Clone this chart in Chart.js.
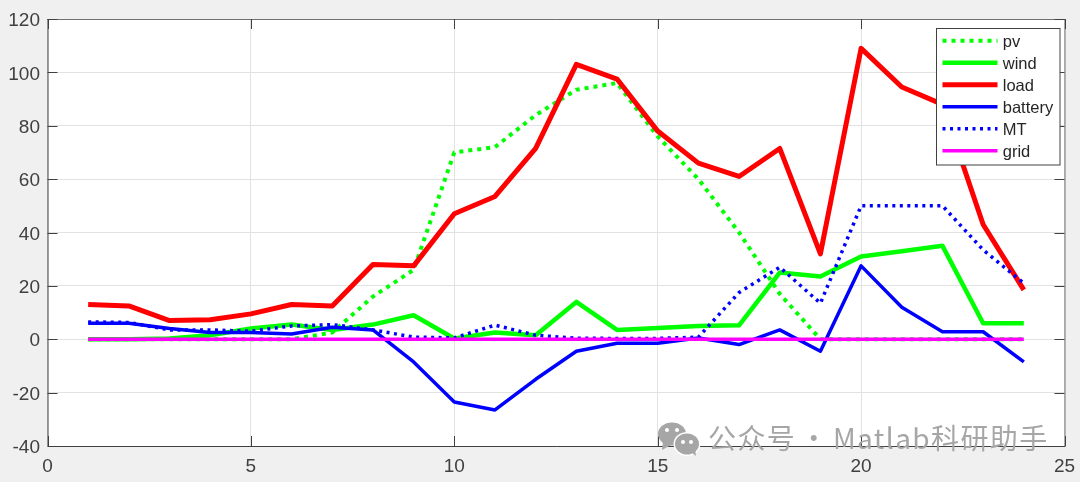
<!DOCTYPE html>
<html>
<head>
<meta charset="utf-8">
<style>
html,body{margin:0;padding:0;background:#f0f0f0;}
canvas{display:block;}
</style>
<script src="https://cdn.jsdelivr.net/npm/chart.js@4"></script>
</head>
<body>
<canvas id="c" width="1080" height="482"></canvas>
<script>
const hours   = [1,2,3,4,5,6,7,8,9,10,11,12,13,14,15,16,17,18,19,20,21,22,23,24];
const pv      = [0,0,0,0,0,0,2.5,16,26,70,72,84,93.5,96,76,60,40,17,0,0,0,0,0,0];
const wind    = [0,0,0.3,1.5,4,5.5,3.5,5.5,9,0.3,2.5,1.5,14,3.5,4.2,5,5.2,25,23.5,31,33,35,6,6];
const load    = [13,12.5,7,7.3,9.5,13,12.5,28,27.5,47,53.5,71.5,103,97.5,78,66,61,71.5,32,109,94.5,88,43,18.5];
const battery = [6,6,4,2.5,2.5,2,4.5,3.5,-8.5,-23.5,-26.5,-15,-4.5,-1.5,-1.5,0.5,-2,3.5,-4.5,27.5,12,2.8,2.8,-8.5];
const mt      = [6.5,6.3,3.5,3.5,3,5,5.5,3.5,0.8,0.5,5.3,1.5,0.4,0.3,0.3,0.8,17.5,27,13.5,50,50,50,33.5,21];
const grid    = [0,0,0,0,0,0,0,0,0,0,0,0,0,0,0,0,0,0,0,0,0,0,0,0];
const seriesNames = ['pv','wind','load','battery','MT','grid'];
const watermark = '公众号 · Matlab科研助手';

const FONT = '"Liberation Sans", Arial, sans-serif';
const pts = v => v.map((y,i)=>({x:hours[i],y}));
const ds = (i,data,color,w,dash) => ({
  label: seriesNames[i], data: pts(data), borderColor: color, backgroundColor: color,
  borderWidth: w, borderDash: dash||[], pointRadius: 0, tension: 0, fill: false,
  borderCapStyle: 'butt', borderJoinStyle: 'round', order: 6-i
});

const frame = {
  id:'frame',
  beforeDraw(chart){
    const {ctx,chartArea:a} = chart;
    ctx.save();
    ctx.fillStyle = '#ffffff';
    ctx.fillRect(a.left,a.top,a.right-a.left,a.bottom-a.top);
    ctx.restore();
  },
  beforeDatasetsDraw(chart){
    const {ctx,chartArea:a,scales:{x,y}} = chart;
    const len = 10;
    ctx.save();
    ctx.lineWidth = 1;
    ctx.strokeStyle = '#707070';
    ctx.beginPath();
    ctx.moveTo(a.left,a.top+0.5); ctx.lineTo(a.right+0.5,a.top+0.5); ctx.lineTo(a.right+0.5,a.bottom);
    ctx.stroke();
    ctx.strokeStyle = '#404040';
    ctx.beginPath();
    ctx.moveTo(a.left+0.5,a.top); ctx.lineTo(a.left+0.5,a.bottom+0.5); ctx.lineTo(a.right+1,a.bottom+0.5);
    ctx.stroke();
    ctx.beginPath();
    x.ticks.forEach(t=>{
      const p = Math.round(x.getPixelForValue(t.value))+0.5;
      ctx.moveTo(p,a.bottom); ctx.lineTo(p,a.bottom-len);
      ctx.moveTo(p,a.top); ctx.lineTo(p,a.top+len);
    });
    y.ticks.forEach(t=>{
      const p = Math.round(y.getPixelForValue(t.value))+0.5;
      ctx.moveTo(a.left,p); ctx.lineTo(a.left+len,p);
      ctx.moveTo(a.right,p); ctx.lineTo(a.right-len,p);
    });
    ctx.stroke();
    ctx.restore();
  },
  afterDraw(chart){
    const {ctx} = chart;
    const ink = '#a6a6a6';
    ctx.save();
    // watermark
    ctx.fillStyle = ink;
    ctx.beginPath(); ctx.ellipse(672,434,14,11.5,0,0,Math.PI*2); ctx.fill();
    ctx.beginPath(); ctx.moveTo(663,442); ctx.lineTo(662,450); ctx.lineTo(671,445); ctx.fill();
    ctx.fillStyle = '#ffffff';
    ctx.beginPath(); ctx.ellipse(687,444,13.5,12,0,0,Math.PI*2); ctx.fill();
    ctx.fillStyle = ink;
    ctx.beginPath(); ctx.ellipse(687,444,12,10.5,0,0,Math.PI*2); ctx.fill();
    ctx.beginPath(); ctx.moveTo(691,452); ctx.lineTo(696,456); ctx.lineTo(695,449); ctx.fill();
    ctx.fillStyle = '#ffffff';
    [[667,430],[677,430],[683,442],[691,442]].forEach(([px,py])=>{
      ctx.beginPath(); ctx.arc(px,py,2,0,Math.PI*2); ctx.fill();
    });
    ctx.fillStyle = ink;
    ctx.font = '28px "Noto Sans CJK SC", sans-serif';
    ctx.textAlign = 'left';
    ctx.textBaseline = 'middle';
    ctx.letterSpacing = '1.4px';
    ctx.wordSpacing = '-4px';
    ctx.fillText(watermark,708,438);
    ctx.restore();
  }
};

const legendPlace = {
  id:'legendPlace',
  beforeLayout(chart){
    const lg = chart.legend;
    lg._layers = () => [{z:10, draw(){
      const c = lg.ctx;
      c.save();
      c.fillStyle = '#ffffff';
      c.strokeStyle = '#404040';
      c.lineWidth = 1;
      c.fillRect(936.5,28.5,123.5,136.5);
      c.strokeRect(936.5,28.5,123.5,136.5);
      c.restore();
      // legend text sits 2px below its line sample and 3px nearer to it
      const ft = c.fillText;
      c.fillText = function(s,x,y,...r){ return ft.call(c,s,x-3,y+2,...r); };
      lg.draw();
      delete c.fillText;
    }}];
  },
  afterLayout(chart){
    const lg = chart.legend;
    lg.left = 937; lg.right = 1060; lg.top = 27; lg.bottom = 300;
    lg.width = 123; lg.height = 273;
  }
};

new Chart(document.getElementById('c'),{
  type:'line',
  data:{datasets:[
    ds(0,pv,'#00ff00',4,[4,5]),
    ds(1,wind,'#00ff00',4.5),
    ds(2,load,'#ff0000',5),
    ds(3,battery,'#0000ff',3.5),
    ds(4,mt,'#0000ff',3.5,[3,4.5]),
    ds(5,grid,'#ff00ff',3.5)
  ]},
  options:{
    responsive:false,
    animation:false,
    devicePixelRatio:1,
    layout:{padding:{left:0,top:19,right:15.5,bottom:0}},
    plugins:{
      title:{display:false},
      tooltip:{enabled:false},
      legend:{
        display:true,
        position:'chartArea',
        align:'start',
        labels:{
          usePointStyle:true,
          pointStyle:'line',
          pointStyleWidth:55,
          padding:5.5,
          color:'#262626',
          font:{family:FONT,size:16.5},
          sort:(a,b)=>a.datasetIndex-b.datasetIndex,
          generateLabels(chart){
            return Chart.defaults.plugins.legend.labels.generateLabels(chart).map(it=>{
              const d = chart.data.datasets[it.datasetIndex];
              it.lineDash = d.borderDash;
              it.lineWidth = d.borderWidth;
              it.lineCap = 'butt';
              return it;
            });
          }
        }
      }
    },
    scales:{
      x:{
        type:'linear',min:0,max:25,
        afterFit(s){s.height=36;s.paddingLeft=0;s.paddingRight=0;},
        ticks:{stepSize:5,color:'#404040',font:{family:FONT,size:19},padding:9,maxRotation:0},
        grid:{color:'#e2e2e2',lineWidth:1,drawTicks:false},
        border:{display:false}
      },
      y:{
        type:'linear',min:-40,max:120,
        afterFit(s){s.width=47.5;s.paddingTop=0;s.paddingBottom=0;},
        ticks:{stepSize:20,color:'#404040',font:{family:FONT,size:19},padding:7.5,labelOffset:2},
        grid:{color:'#e2e2e2',lineWidth:1,drawTicks:false},
        border:{display:false}
      }
    }
  },
  plugins:[frame,legendPlace]
});
</script>
</body>
</html>
